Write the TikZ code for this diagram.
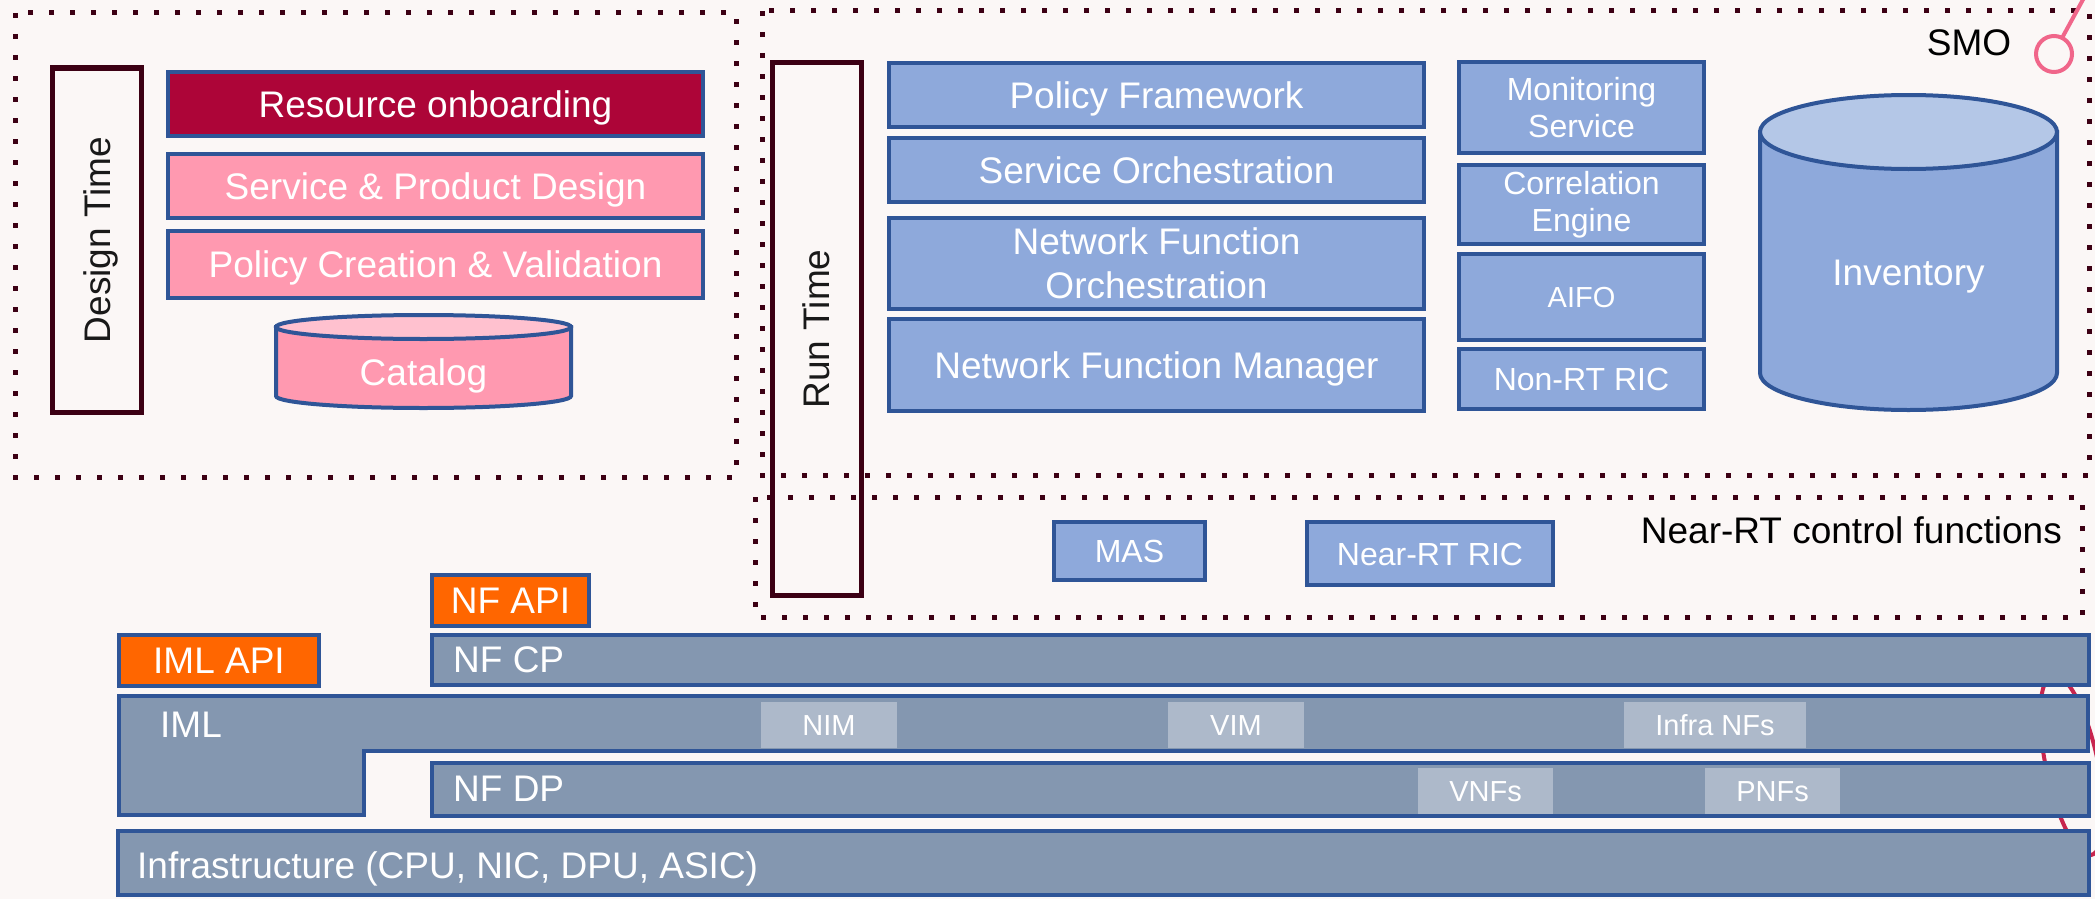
\documentclass[tikz,border=0pt]{standalone}
\usepackage{fontspec}
\setmainfont{Liberation Sans}
\definecolor{bg}{HTML}{FBF7F6}
\definecolor{dotc}{HTML}{3C0014}
\definecolor{bord}{HTML}{2F5597}
\definecolor{rtblue}{HTML}{8EA9DB}
\definecolor{rttop}{HTML}{B4C7E7}
\definecolor{crimf}{HTML}{AD0538}
\definecolor{pinkc}{HTML}{FF99B0}
\definecolor{pinktop}{HTML}{FFC1CF}
\definecolor{orng}{HTML}{FF6600}
\definecolor{barc}{HTML}{8497B0}
\definecolor{innerc}{HTML}{ADB9CA}
\definecolor{lolli}{HTML}{F0668A}
\definecolor{arcred}{HTML}{C8264F}
\begin{document}
\begin{tikzpicture}[x=1pt,y=-1pt,
  dotbox/.style={draw=dotc, line width=5pt, dash pattern=on 5pt off 16pt},
  t37/.style={font=\fontsize{37}{44}\selectfont, text height=26.5pt, text depth=0pt},
  t32/.style={font=\fontsize{32}{38}\selectfont, text height=23pt, text depth=0pt},
  t29/.style={font=\fontsize{29}{35}\selectfont, text height=21pt, text depth=0pt},
  m37/.style={font=\fontsize{37}{44}\selectfont},
  m32/.style={font=\fontsize{32}{37}\selectfont},
  timebox/.style={draw=dotc, line width=5pt, rotate=90, inner sep=0pt, t37, text=black!90},
  blk/.style={draw=bord, line width=4pt, inner sep=0pt, text=white, align=center},
  blue/.style={blk, fill=rtblue},
  barbox/.style={blk, fill=barc},
  innerbox/.style={fill=innerc, inner sep=0pt, text=white, t29},
  lbl/.style={inner sep=0pt, anchor=west, text=white, t37}
]
\useasboundingbox (0,0) rectangle (2095,899);
\fill[bg] (0,0) rectangle (2095,899);
\clip (0,0) rectangle (2095,899);

% dotted groups
\draw[dotbox] (15,13) rectangle (736,477);
\draw[dotbox] (762,11) rectangle (2089,475);
\draw[dotbox] (755,497) rectangle (2082,617);
\node[t37, text=black, inner sep=0pt] (smo) at (1969,42) {SMO};
\node[t37, text=black, inner sep=0pt, anchor=east] (nearcf) at (2062,530) {Near-RT control functions};

% SMO lollipop
\draw[lolli, line width=4pt] (2054,54) circle [radius=18pt];
\draw[lolli, line width=4pt] (2062,38) -- (2086,-6);

% design time
\node[timebox, minimum width=344pt, minimum height=89pt] (dt) at (97,240) {Design Time};
\node[blk, fill=crimf, t37, minimum width=535pt, minimum height=64pt] (ro) at (435.5,104) {Resource onboarding};
\node[blk, fill=pinkc, t37, minimum width=535pt, minimum height=64pt] (spd) at (435.5,186) {Service \& Product Design};
\node[blk, fill=pinkc, t37, minimum width=535pt, minimum height=67pt] (pcv) at (435.5,264.5) {Policy Creation \& Validation};
% catalog cylinder
\filldraw[fill=pinkc, draw=bord, line width=4pt] (276,327) -- (276,396) arc[start angle=180, end angle=360, x radius=147.5pt, y radius=12pt] -- (571,327) -- cycle;
\filldraw[fill=pinktop, draw=bord, line width=4pt] (423.5,327) ellipse [x radius=147.5pt, y radius=12pt];
\node[inner sep=0pt, text=white, t37] (catalog) at (423.5,372) {Catalog};

% run time
\node[timebox, minimum width=532pt, minimum height=89pt] (rt) at (816.5,329) {Run Time};
\node[blue, t37, minimum width=535pt, minimum height=64pt] (pf) at (1156.5,95) {Policy Framework};
\node[blue, t37, minimum width=535pt, minimum height=64pt] (so) at (1156.5,170) {Service Orchestration};
\node[blue, m37, minimum width=535pt, minimum height=91pt] (nfo) at (1156.5,263.5) {Network Function\\Orchestration};
\node[blue, t37, minimum width=535pt, minimum height=92pt] (nfm) at (1156.5,365) {Network Function Manager};
\node[blue, m32, minimum width=245pt, minimum height=91pt] (ms) at (1581.5,107.5) {Monitoring\\Service};
\node[blue, m32, minimum width=245pt, minimum height=79pt] (ce) at (1581.5,204.5) {Correlation\\Engine};
\node[blue, t29, minimum width=245pt, minimum height=86pt] (aifo) at (1581.5,297) {AIFO};
\node[blue, t32, minimum width=245pt, minimum height=60pt] (nonrt) at (1581.5,379) {Non-RT RIC};
% inventory cylinder
\filldraw[fill=rtblue, draw=bord, line width=4pt] (1760,132) -- (1760,373) arc[start angle=180, end angle=360, x radius=148.5pt, y radius=37pt] -- (2057,132) -- cycle;
\filldraw[fill=rttop, draw=bord, line width=4pt] (1908.5,132) ellipse [x radius=148.5pt, y radius=37pt];
\node[inner sep=0pt, text=white, t37] (inventory) at (1908.5,272) {Inventory};

% near-RT
\node[blue, t32, minimum width=151pt, minimum height=58pt] (mas) at (1129.5,551) {MAS};
\node[blue, t32, minimum width=246pt, minimum height=63pt] (nearric) at (1430,553.5) {Near-RT RIC};

% red arc behind the stack
\begin{scope}[shift={(2072,765)}, rotate=12]
\draw[arcred, line width=4pt] (0,0) ellipse [x radius=26pt, y radius=92pt];
\end{scope}

% bottom layers
\node[blk, fill=orng, t37, minimum width=157pt, minimum height=51pt] (nfapi) at (510.5,600.5) {NF API};
\node[blk, fill=orng, t37, minimum width=200pt, minimum height=51pt] (imlapi) at (219,660.5) {IML API};
\node[barbox, minimum width=1657pt, minimum height=50pt] (nfcp) at (1260.5,660) {};
\node[lbl] (nfcplbl) at (453,659) {NF CP};
\filldraw[fill=barc, draw=bord, line width=4pt] (119,696) -- (2088,696) -- (2088,751) -- (364,751) -- (364,815) -- (119,815) -- cycle;
\node[lbl] (imllbl) at (160,724) {IML};
\node[barbox, minimum width=1657pt, minimum height=53pt] (nfdp) at (1260.5,789.5) {};
\node[lbl] (nfdplbl) at (453,788) {NF DP};
\node[barbox, minimum width=1971pt, minimum height=64pt] (infra) at (1103.5,863) {};
\node[lbl] (infralbl) at (137,865) {Infrastructure (CPU, NIC, DPU, ASIC)};

\node[innerbox, minimum width=136pt, minimum height=46pt] (nim) at (829,725) {NIM};
\node[innerbox, minimum width=136pt, minimum height=46pt] (vim) at (1236,725) {VIM};
\node[innerbox, minimum width=182pt, minimum height=46pt] (infranfs) at (1715,725) {Infra NFs};
\node[innerbox, minimum width=135pt, minimum height=46pt] (vnfs) at (1485.5,791) {VNFs};
\node[innerbox, minimum width=135pt, minimum height=46pt] (pnfs) at (1772.5,791) {PNFs};
\end{tikzpicture}
\end{document}
